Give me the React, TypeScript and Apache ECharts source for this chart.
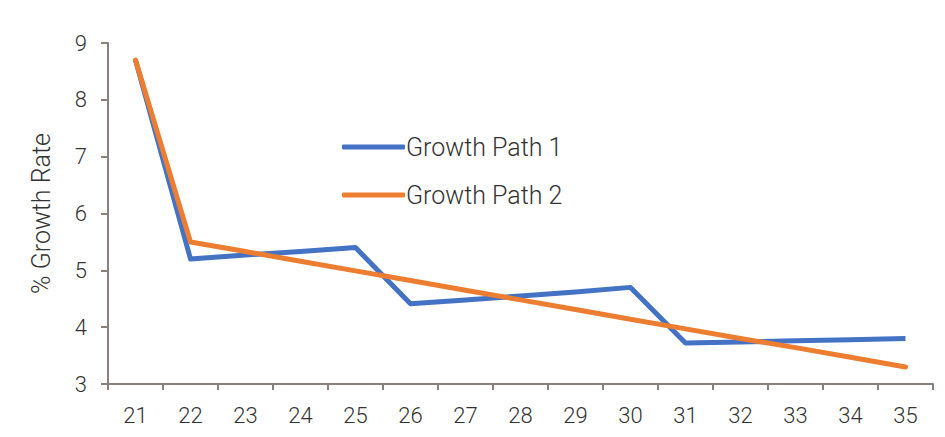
import React, { useEffect, useRef } from "react";
import * as echarts from "echarts";

const categories = ["21", "22", "23", "24", "25", "26", "27", "28", "29", "30", "31", "32", "33", "34", "35"];
const path1 = [8.7, 5.2, 5.27, 5.33, 5.4, 4.41, 4.48, 4.55, 4.62, 4.7, 3.72, 3.74, 3.76, 3.78, 3.8];
const path2 = [8.7, 5.5, 5.33, 5.16, 4.99, 4.82, 4.65, 4.48, 4.31, 4.14, 3.97, 3.8, 3.64, 3.47, 3.3];
const seriesNames = ["Growth Path 1", "Growth Path 2"];
const yTicks = { min: 3, max: 9, interval: 1 };

export default function App() {
  const ref = useRef<HTMLDivElement>(null);
  useEffect(() => {
    if (!ref.current) return;
    const chart = echarts.init(ref.current, null, { renderer: "svg" });
    const font = "Roboto";
    const axisColor = "#8a817c";
    chart.setOption({
      animation: false,
      backgroundColor: "#ffffff",
      grid: { left: 100, top: 35, right: 4, bottom: 45, containLabel: false },
      legend: {
        orient: "vertical",
        left: 329,
        top: 121,
        itemGap: 22,
        itemWidth: 63,
        itemHeight: 5,
        icon: "roundRect",
        textStyle: { fontFamily: font, fontWeight: 300, fontSize: 25, lineHeight: 26, color: "#333333", padding: [0, 0, 0, -4] },
        data: seriesNames,
      },
      xAxis: {
        type: "category",
        data: categories,
        boundaryGap: true,
        axisLine: { lineStyle: { color: axisColor, width: 2 } },
        axisTick: { show: true, length: 6, lineStyle: { color: axisColor, width: 2 } },
        axisLabel: { fontFamily: font, fontWeight: 300, fontSize: 22, color: "#333333", margin: 20 },
        splitLine: { show: false },
      },
      yAxis: {
        type: "value",
        min: yTicks.min,
        max: yTicks.max,
        interval: yTicks.interval,
        name: "% Growth Rate",
        nameLocation: "middle",
        nameGap: 54,
        nameTextStyle: { fontFamily: font, fontWeight: 300, fontSize: 25, color: "#333333" },
        axisLine: { show: true, lineStyle: { color: axisColor, width: 2 } },
        axisTick: { show: true, length: 7, lineStyle: { color: axisColor, width: 2 } },
        axisLabel: { fontFamily: font, fontWeight: 300, fontSize: 22, color: "#333333", margin: 21 },
        splitLine: { show: false },
      },
      series: [
        {
          name: seriesNames[0],
          type: "line",
          data: path1,
          showSymbol: false,
          symbol: "none",
          lineStyle: { color: "#4472c4", width: 5, join: "round" },
          itemStyle: { color: "#4472c4" },
        },
        {
          name: seriesNames[1],
          type: "line",
          data: path2,
          showSymbol: false,
          symbol: "none",
          lineStyle: { color: "#ed7d31", width: 5, cap: "round", join: "round" },
          itemStyle: { color: "#ed7d31" },
        },
      ],
    });
    return () => chart.dispose();
  }, []);
  return <div ref={ref} style={{ width: 929, height: 421 }} />;
}
